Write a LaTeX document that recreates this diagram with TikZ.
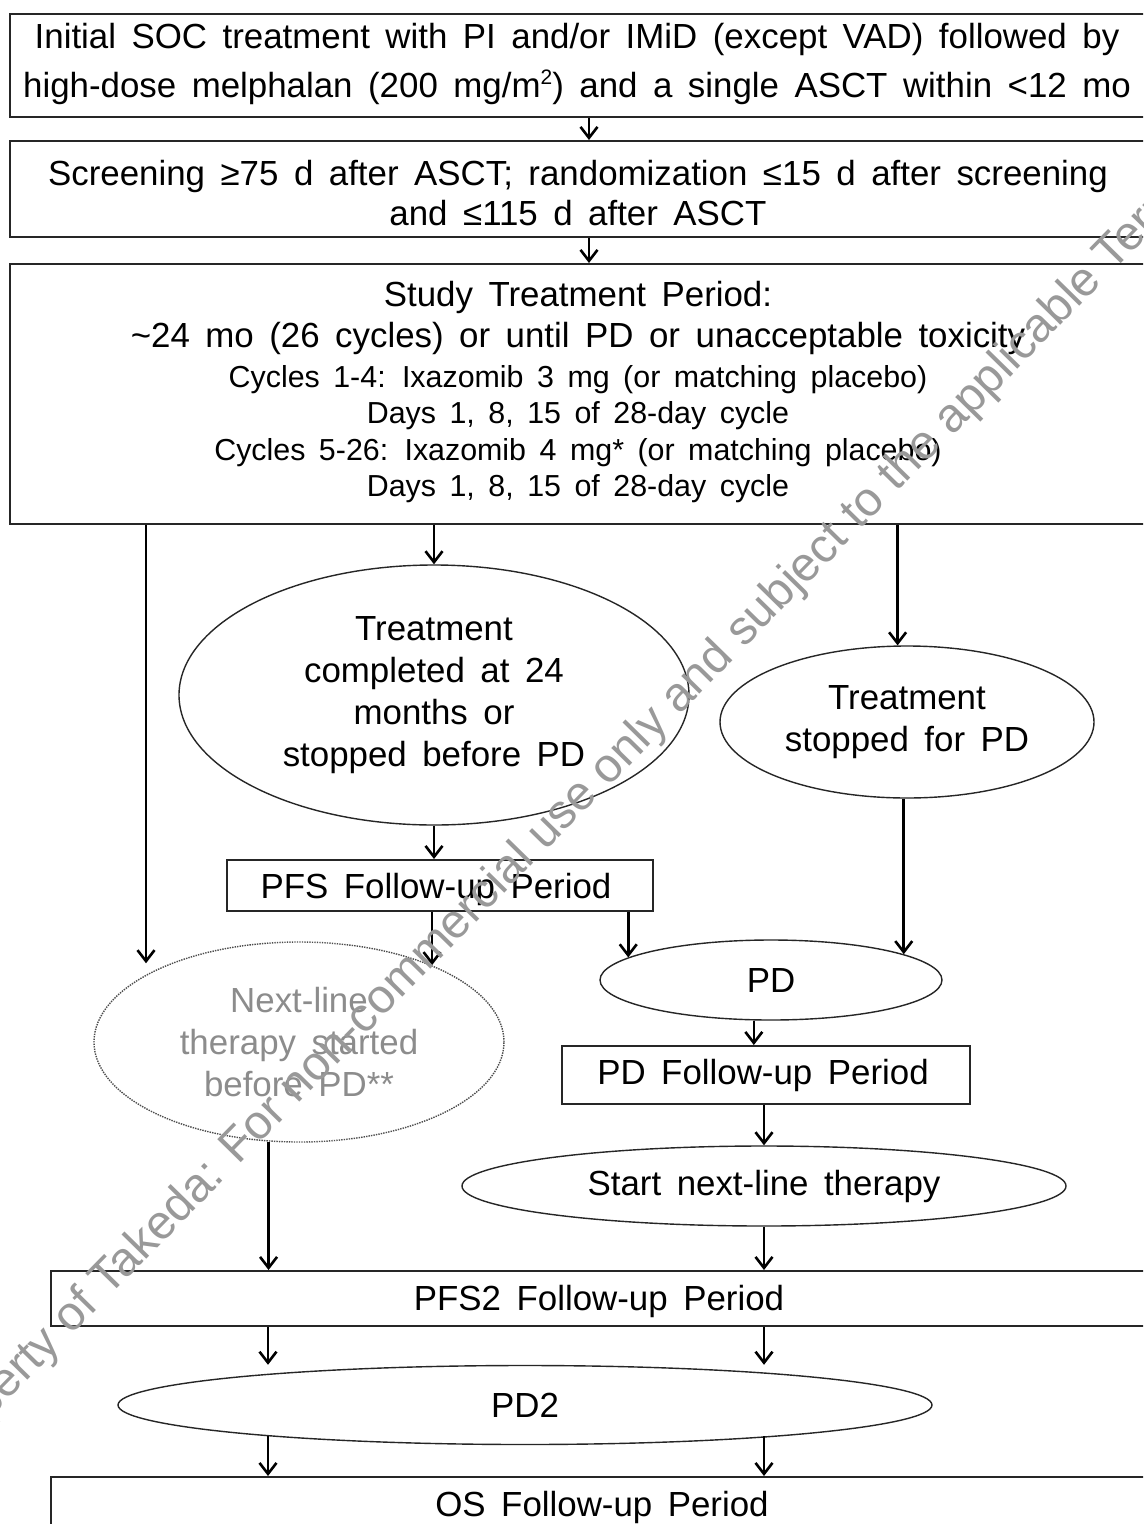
\documentclass[tikz,border=0pt]{standalone}
\usepackage{fontspec}
\setmainfont{Liberation Sans}[WordSpace=1.6]
\newfontfamily\wmfont{Liberation Sans}
\usetikzlibrary{arrows.meta,shapes.geometric}
\begin{document}
\begin{tikzpicture}[x=1bp,y=-1bp,
  box/.style={draw=black!85, line width=1.8bp, rectangle, inner sep=0pt, anchor=north west},
  ell/.style={draw=black!85, line width=1.4bp, ellipse, inner sep=0pt, align=center,
     font=\fontsize{35}{42}\selectfont},
  dotell/.style={ell, draw=black!70, dash pattern=on 1.4bp off 1.1bp, text=black!45},
  big/.style={font=\fontsize{35}{42}\selectfont, align=center, inner sep=0pt},
  small/.style={font=\fontsize{30.5}{36.5}\selectfont, align=center, inner sep=0pt},
  arr/.style={line width=2.6bp, -{Straight Barb[length=11bp,width=17bp,line width=2.6bp]}},
  wmark/.style={text=black!40, font=\wmfont\fontsize{48}{48}\selectfont, inner sep=0pt, rotate=45.6}
]
\clip (0,0) rectangle (1143,1524);
\fill[white] (0,0) rectangle (1143,1524);

% column coordinates
\coordinate (cA) at (589,0);
\coordinate (cL) at (146,0);
\coordinate (c268) at (268,0);
\coordinate (c764) at (764,0);

% boxes
\node[box, minimum width=1150bp, minimum height=103bp] (b1) at (9,13) {};
\node[big, font=\fontsize{35}{50}\selectfont] (b1t) at (577,64)
  {Initial SOC treatment with PI and/or IMiD (except VAD) followed by\\
   high-dose melphalan (200 mg/m\raisebox{13bp}{\fontsize{21}{21}\selectfont 2}) and a single ASCT within <12 mo};

\node[box, minimum width=1150bp, minimum height=96bp] (b2) at (9,140) {};
\node[big, font=\fontsize{35}{41}\selectfont] (b2t) at (578,193)
  {Screening ≥75 d after ASCT; randomization ≤15 d after screening\\
   and ≤115 d after ASCT};

\node[box, minimum width=1150bp, minimum height=260bp] (b3) at (9,263) {};
\node[big] (b3t) at (578,318)
  {Study Treatment Period:\\
   \textasciitilde24 mo (26 cycles) or until PD or unacceptable toxicity};
\node[small] (b3s) at (578,434)
  {Cycles 1-4: Ixazomib 3 mg (or matching placebo)\\
   Days 1, 8, 15 of  28-day cycle\\
   Cycles 5-26: Ixazomib 4 mg* (or matching placebo)\\
   Days 1, 8, 15 of  28-day cycle};

% ellipses
\node[ell, minimum width=510bp, minimum height=260bp] (ea) at (434,695)
  {Treatment\\completed at 24\\months or\\stopped before PD};
\node[ell, minimum width=374bp, minimum height=152bp] (eb) at (907,722)
  {Treatment\\stopped for PD};

\node[box, minimum width=426bp, minimum height=51bp] (pfs) at (226,859) {};
\node[big] (pfst) at (436,889) {PFS Follow-up Period};

\node[dotell, minimum width=410bp, minimum height=200bp] (nlt) at (299,1042)
  {Next-line\\therapy started\\before PD**};

\node[ell, minimum width=342bp, minimum height=80bp] (pd) at (771,980) {PD};

\node[box, minimum width=408bp, minimum height=58bp] (pdbox) at (561,1045) {};
\node[big] (pdboxt) at (763,1075) {PD Follow-up Period};

\node[ell, minimum width=604bp, minimum height=80bp] (ee) at (764,1186) {Start next-line therapy};

\node[box, minimum width=1110bp, minimum height=55bp] (pfs2) at (50,1270) {};
\node[big] (pfs2t) at (599,1301) {PFS2 Follow-up Period};

\node[ell, minimum width=814bp, minimum height=79bp] (pd2) at (525,1405) {PD2};

\node[box, minimum width=1110bp, minimum height=80bp] (os) at (50,1476) {};
\node[big] (ost) at (602,1507) {OS Follow-up Period};

% connectors
\draw[arr] (b1.south -| cA) -- (b2.north -| cA);
\draw[arr] (b2.south -| cA) -- (b3.north -| cA);
\draw[arr, shorten >=11bp] (b3.south -| cL) -- (nlt.156 -| cL);
\draw[arr] (b3.south -| ea.north) -- (ea.north);
\draw[arr] (b3.south -| eb.97) -- (eb.97);
\draw[arr] (ea.south) -- (pfs.north -| ea.south);
\draw[arr] (pfs.south -| nlt.30) -- (nlt.30);
\draw[arr] (pfs.south -| pd.171) -- (pd.171);
\draw[arr] (eb.south -| pd.11) -- (pd.11);
\draw[arr] (pd.247) -- (pdbox.north -| pd.247);
\draw[arr] (pdbox.south -| ee.north) -- (ee.north);
\draw[arr] (nlt.253) -- (pfs2.north -| nlt.253);
\draw[arr] (ee.south) -- (pfs2.north -| ee.south);
\draw[arr] (pfs2.south -| c268) -- (pd2.north -| c268);
\draw[arr] (pfs2.south -| c764) -- (pd2.north -| c764);
\draw[arr] (pd2.187 -| c268) -- (os.north -| c268);
\draw[arr] (pd2.353 -| c764) -- (os.north -| c764);

% watermark
\node[wmark] (wm) at (614,764)
  {Property of Takeda: For non-commercial use only and subject to the applicable Terms of Use};
\end{tikzpicture}
\end{document}
